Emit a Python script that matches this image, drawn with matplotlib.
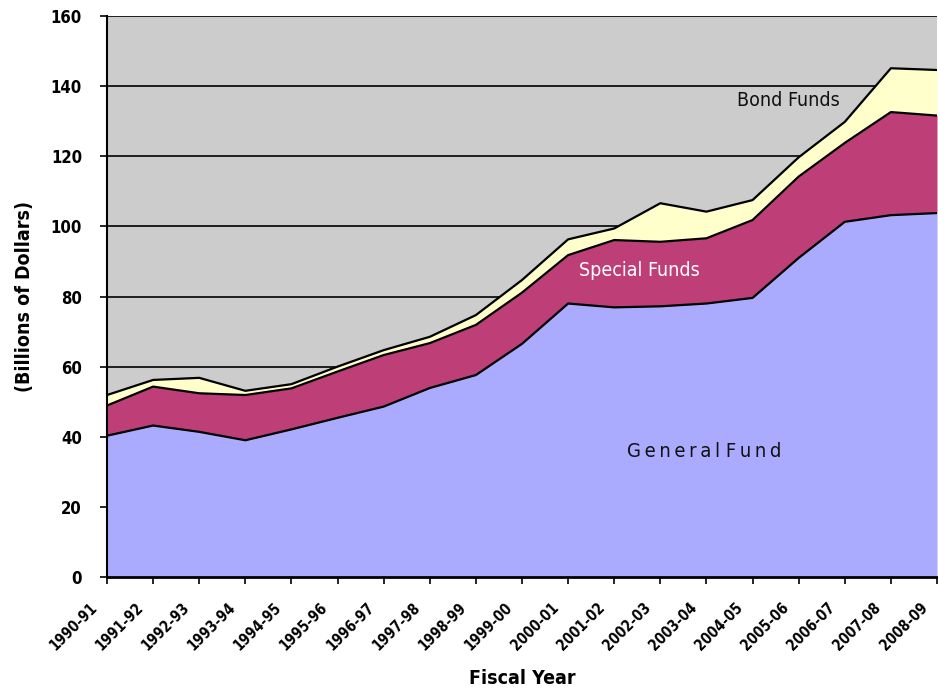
import matplotlib
matplotlib.use("Agg")
import matplotlib.pyplot as plt
from matplotlib.transforms import ScaledTranslation
import numpy as np

# fiscal years on the x axis
years = ["1990-91", "1991-92", "1992-93", "1993-94", "1994-95", "1995-96",
         "1996-97", "1997-98", "1998-99", "1999-00", "2000-01", "2001-02",
         "2002-03", "2003-04", "2004-05", "2005-06", "2006-07", "2007-08",
         "2008-09"]

# billions of dollars
general_fund = [40.3, 43.2, 41.4, 39.0, 42.1, 45.4, 48.6, 53.9, 57.6, 66.5,
                78.0, 76.9, 77.2, 78.0, 79.6, 91.0, 101.3, 103.2, 103.8]
special_funds = [8.6, 11.1, 11.0, 12.9, 11.7, 13.2, 14.7, 12.8, 14.3, 14.6,
                 13.8, 19.2, 18.4, 18.6, 22.2, 23.2, 22.5, 29.4, 27.8]
bond_funds = [3.0, 1.9, 4.4, 1.2, 1.2, 1.4, 1.4, 1.8, 2.8, 3.6,
              4.5, 3.3, 11.0, 7.6, 5.7, 5.5, 6.0, 12.5, 13.0]

plt.rcParams["font.family"] = ["DejaVu Sans"]
plt.rcParams["font.stretch"] = "condensed"

fig = plt.figure(figsize=(9.38, 6.93), dpi=100)
ax = fig.add_axes([107 / 938, 116 / 693, 830 / 938, 561 / 693])
ax.set_facecolor("#CCCCCC")

x = np.arange(len(years))
g = np.array(general_fund)
s = g + np.array(special_funds)
b = s + np.array(bond_funds)

ax.fill_between(x, 0, g, color="#AAAAFF", lw=0, zorder=2)
ax.fill_between(x, g, s, color="#BE3E78", lw=0, zorder=2)
ax.fill_between(x, s, b, color="#FFFFCC", lw=0, zorder=2)
for line in (g, s, b):
    ax.plot(x, line, color="black", lw=1.6, zorder=3)

ax.set_xlim(0, len(years) - 1)
ax.set_ylim(0, 160)
ax.set_yticks(range(0, 161, 20))
ax.yaxis.grid(True, color="black", lw=1.2, zorder=1)
ax.set_axisbelow(True)

# x tick labels drawn by hand so they can sit a bit left of each tick
ax.set_xticks(x)
ax.set_xticklabels([])
lbl_tr = ax.get_xaxis_transform() + ScaledTranslation(-12 / 100, -28 / 100,
                                                      fig.dpi_scale_trans)
for xi, yr in zip(x, years):
    ax.text(xi, 0, yr, transform=lbl_tr, rotation=45, ha="right", va="center",
            rotation_mode="anchor", fontsize=10.5, fontweight="bold",
            clip_on=False)

for lbl in ax.get_yticklabels():
    lbl.set_fontsize(12)
    lbl.set_fontweight("bold")
ax.tick_params(axis="both", direction="out", length=5, width=1.2, colors="black")
ax.tick_params(axis="y", pad=13)

for side in ("top", "right"):
    ax.spines[side].set_visible(False)
ax.spines["left"].set_linewidth(1.5)
ax.spines["bottom"].set_linewidth(2)
ax.spines["left"].set_zorder(4)
ax.spines["bottom"].set_zorder(4)

ax.set_xlabel("Fiscal Year", fontsize=14, fontweight="bold", va="center")
ax.xaxis.set_label_coords(0.5, -0.181)
ax.set_ylabel("(Billions of Dollars)", fontsize=14, fontweight="bold", labelpad=12)

ax.text(14.77, 135.8, "Bond Funds", fontsize=14, color="#111111",
        ha="center", va="center", zorder=5)
ax.text(11.54, 87.3, "Special Funds", fontsize=14, color="white",
        ha="center", va="center", zorder=5)
ax.text(12.95, 35.9, "G\u2009e\u2009n\u2009e\u2009r\u2009a\u2009l F\u2009u\u2009n\u2009d",
        fontsize=14.5, color="#111111", ha="center", va="center", zorder=5)

fig.savefig("out.png", dpi=100)
